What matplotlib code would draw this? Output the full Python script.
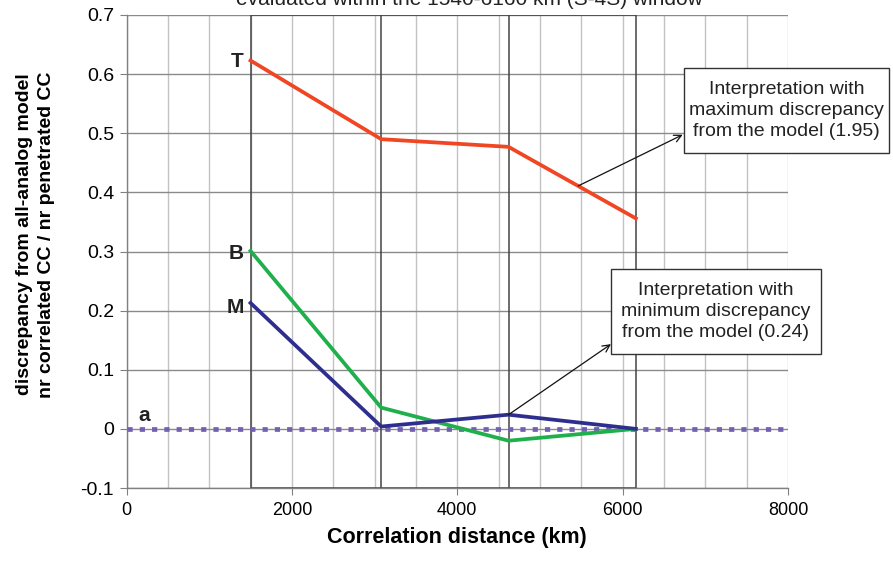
import matplotlib.pyplot as plt
from matplotlib.patches import Rectangle
from matplotlib.ticker import MultipleLocator

plt.rcParams['font.family'] = ['Liberation Sans', 'DejaVu Sans']

# Correlation distances of the four window steps (km)
distance = [1500, 3080, 4620, 6160]

# Discrepancy per interpretation
T = [0.623, 0.490, 0.477, 0.356]
B = [0.301, 0.036, -0.020, 0.0]
M = [0.213, 0.004, 0.024, 0.0]
a_x = [0, 8000]
a_y = [0.0, 0.0]

window_edges = [1500, 3080, 4620, 6160]

fig = plt.figure(figsize=(8.93, 5.62), dpi=100)
ax = fig.add_axes([0.14166, 0.13167, 0.74076, 0.84164])

ax.set_xlim(0, 8000)
ax.set_ylim(-0.1, 0.7)
ax.xaxis.set_major_locator(MultipleLocator(2000))
ax.xaxis.set_minor_locator(MultipleLocator(500))
ax.yaxis.set_major_locator(MultipleLocator(0.1))

ax.grid(True, which='both', axis='x', color='#c2c2c2', lw=1)
ax.grid(True, which='major', axis='y', color='#8a8a8a', lw=1)
ax.set_axisbelow(True)

for s in ['top', 'right']:
    ax.spines[s].set_visible(False)
for s in ['left', 'bottom']:
    ax.spines[s].set_color('#808080')
    ax.spines[s].set_linewidth(1)

ax.tick_params(which='major', length=5, color='#808080', pad=4)
ax.tick_params(axis='x', labelsize=13, pad=5)
ax.tick_params(axis='y', labelsize=14)
ax.tick_params(which='minor', length=0)
ax.yaxis.set_major_formatter(plt.FuncFormatter(lambda v, p: '0' if abs(v) < 1e-9 else f'{v:.1f}'))

# window frame
ax.vlines(window_edges, -0.1, 0.7, color='#444444', lw=1.1, zorder=2)
ax.hlines([0.7, -0.1], window_edges[0], window_edges[-1], color='#444444', lw=1.1, zorder=2)

ax.plot(a_x, a_y, color='#7360b2', lw=3.4, linestyle=(0, (1.1, 1.5)),
        dash_capstyle='butt', zorder=3, clip_on=False)
ax.plot(distance, B, color='#1fb04c', lw=2.7, zorder=4)
ax.plot(distance, M, color='#2e2e8f', lw=2.7, zorder=5)
ax.plot(distance, T, color='#f04623', lw=2.7, zorder=4)

lab = dict(fontsize=15, fontweight='bold', ha='right', va='center', color='#222222')
ax.text(distance[0] - 80, T[0] - 0.002, 'T', **lab)
ax.text(distance[0] - 80, B[0] - 0.005, 'B', **lab)
ax.text(distance[0] - 80, M[0] - 0.007, 'M', **lab)
ax.text(212, 0.022, 'a', fontsize=15, fontweight='bold', ha='center', va='center', color='#222222')

# annotation boxes with arrows pointing at the curves
boxes = [
    ((6742, 0.467), 2479, 0.1435, 'Interpretation with\nmaximum discrepancy\nfrom the model (1.95)',
     (5464, 0.411), (6726, 0.4975)),
    ((5859, 0.1265), 2540, 0.1433, 'Interpretation with\nminimum discrepancy\nfrom the model (0.24)',
     (distance[2], M[2]), (5859, 0.1433)),
]
for (x0, y0), w, h, txt, start, end in boxes:
    ax.add_patch(Rectangle((x0, y0), w, h, facecolor='white', edgecolor='#333333',
                           lw=1, zorder=6, clip_on=False))
    ax.text(x0 + w / 2, y0 + h / 2, txt, ha='center', va='center', fontsize=14,
            linespacing=1.29, color='#222222', zorder=7, clip_on=False)
    ax.annotate('', xy=end, xytext=start,
                arrowprops=dict(arrowstyle='->', color='#111111', lw=0.9,
                                shrinkA=0, shrinkB=0, mutation_scale=13),
                zorder=7, annotation_clip=False)

ax.set_xlabel('Correlation distance (km)', fontsize=15.5, fontweight='bold', labelpad=6)
fig.text(0.0398, 0.5827, 'discrepancy from all-analog model\nnr correlated CC / nr penetrated CC',
         rotation=90, ha='center', va='center', fontsize=14, fontweight='bold',
         linespacing=1.34)

fig.text(0.526, 1 - 5 / 562, 'evaluated within the 1540-6160 km (S-4S) window',
         ha='center', va='baseline', fontsize=15, color='#222222')

fig.savefig('out.png', dpi=100)
